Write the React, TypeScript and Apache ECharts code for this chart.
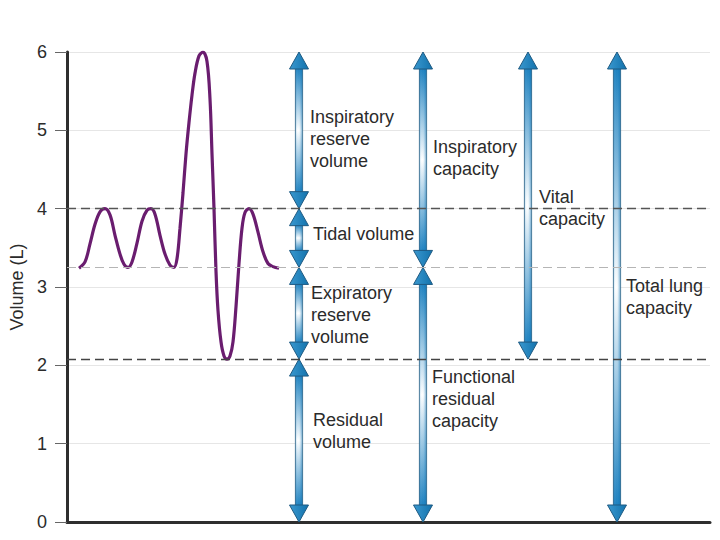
import React, { useEffect, useRef } from "react";
import * as echarts from "echarts";

// ---- data ----
const yTicks = [0, 1, 2, 3, 4, 5, 6];
// spirogram trace: [time, volume (L)]
const traceTime = [
  1.2, 1.8, 2.3, 2.8, 3.3, 3.8, 4.3, 4.8, 5.3, 5.7, 6.1, 6.5, 7.0, 7.5, 8.0, 8.4, 8.8, 9.3, 9.8, 10.3,
  10.7, 11.0, 11.3, 11.6, 11.9, 12.2, 12.5, 12.8, 13.2, 13.6, 14.0, 14.3, 14.5, 14.7, 14.9, 15.1, 15.4,
  15.7, 16.0, 16.3, 16.6, 16.9, 17.2, 17.5, 17.8, 18.2, 18.6, 19.1, 19.6, 20.1, 20.6, 21.2,
];
const traceVolume = [
  3.24, 3.32, 3.55, 3.8, 3.96, 4.0, 3.92, 3.66, 3.42, 3.29, 3.25, 3.32, 3.56, 3.84, 3.98, 4.0, 3.93, 3.66,
  3.42, 3.28, 3.25, 3.36, 3.75, 4.2, 4.7, 5.1, 5.45, 5.73, 5.95, 6.0, 5.88, 5.4, 4.7, 4.0, 3.2, 2.7, 2.3,
  2.12, 2.08, 2.12, 2.3, 2.75, 3.3, 3.75, 3.95, 4.0, 3.93, 3.7, 3.45, 3.3, 3.26, 3.24,
];
// reference levels (L)
const levelTidalTop = 4;
const levelFRC = 3.25;
const levelRV = 2.08;
const levelTLC = 6;

const arrowNames = [
  "Inspiratory\nreserve\nvolume",
  "Tidal volume",
  "Expiratory\nreserve\nvolume",
  "Residual\nvolume",
  "Inspiratory\ncapacity",
  "Functional\nresidual\ncapacity",
  "Vital\ncapacity",
  "Total lung\ncapacity",
];
const arrowColumn = [23.2, 23.2, 23.2, 23.2, 35.6, 35.6, 46.1, 55.0];
const arrowTop = [levelTLC, levelTidalTop, levelFRC, levelRV, levelTLC, levelFRC, levelTLC, levelTLC];
const arrowBottom = [levelTidalTop, levelFRC, levelRV, 0, levelFRC, 0, levelRV, 0];

// label pixel nudges (style only)
const labelDx = [11, 14, 12, 14, 10, 9, 11, 9];
const labelDy = [9, -4, 2, -10, -2, 4, 2, 10];

const BLUE = "#1b80bf";
const OUTLINE = "#1e5a82";

export default function App() {
  const ref = useRef<HTMLDivElement>(null);
  useEffect(() => {
    if (!ref.current) return;
    const chart = echarts.init(ref.current, undefined, { renderer: "svg" });
    const trace = traceTime.map((t, i) => [t, traceVolume[i]]);
    const arrows = arrowColumn.map((x, i) => [x, arrowTop[i], arrowBottom[i]]);
    const font = "Liberation Sans, Arial, Helvetica, sans-serif";

    const option: any = {
      animation: false,
      backgroundColor: "#ffffff",
      grid: { left: 67, right: 10, top: 52, bottom: 18, containLabel: false },
      xAxis: {
        type: "value",
        min: 0,
        max: 64.3,
        axisLine: { show: true, lineStyle: { color: "#2e2e2e", width: 3 } },
        axisTick: { show: false },
        axisLabel: { show: false },
        splitLine: { show: false },
      },
      yAxis: {
        type: "value",
        min: yTicks[0],
        max: yTicks[yTicks.length - 1],
        interval: 1,
        name: "Volume (L)",
        nameLocation: "middle",
        nameRotate: 90,
        nameGap: 41,
        nameTextStyle: { color: "#2b2b2b", fontSize: 18, fontFamily: font },
        axisLine: { show: true, lineStyle: { color: "#2e2e2e", width: 3 } },
        axisTick: { show: true, inside: false, length: 12, lineStyle: { color: "#666", width: 1 } },
        axisLabel: { color: "#2b2b2b", fontSize: 18, fontFamily: font, margin: 20 },
        splitLine: { show: true, lineStyle: { color: "#e6e6e6", width: 1 } },
      },
      series: [
        {
          type: "line",
          data: trace,
          smooth: 0.35,
          showSymbol: false,
          symbol: "none",
          lineStyle: { color: "#6a1d6f", width: 3.2 },
          z: 3,
          markLine: {
            silent: true,
            symbol: ["none", "none"],
            label: { show: false },
            data: [
              { yAxis: levelTidalTop, lineStyle: { color: "#555", width: 1.3, type: [9, 5] } },
              { yAxis: levelFRC, lineStyle: { color: "#b5b5b5", width: 1, type: [9, 5] } },
              { yAxis: levelRV, lineStyle: { color: "#444", width: 1.3, type: [9, 5] } },
            ],
          },
        },
        {
          type: "custom",
          data: arrows,
          clip: false,
          z: 4,
          renderItem: (params: any, api: any) => {
            const i = params.dataIndex;
            const x = api.value(0);
            const p1 = api.coord([x, api.value(1)]);
            const p2 = api.coord([x, api.value(2)]);
            const cx = p1[0];
            const ty = p1[1];
            const by = p2[1];
            const hw = 9.5;
            const hh = 17;
            const sw = 3.6;
            const shaftTop = ty + hh - 1;
            const shaftH = Math.max(0, by - ty - 2 * hh + 2);
            const headFill = new echarts.graphic.LinearGradient(0, 0, 1, 0, [
              { offset: 0, color: "#3a98cf" },
              { offset: 1, color: "#1373ad" },
            ]);
            return {
              type: "group",
              children: [
                {
                  type: "rect",
                  shape: { x: cx - sw, y: shaftTop, width: 2 * sw, height: shaftH },
                  style: {
                    fill: new echarts.graphic.LinearGradient(0, 0, 0, 1, [
                      { offset: 0, color: BLUE },
                      { offset: 0.5, color: "#ffffff" },
                      { offset: 1, color: BLUE },
                    ]),
                    stroke: OUTLINE,
                    lineWidth: 0.8,
                  },
                },
                {
                  type: "rect",
                  shape: { x: cx - sw + 0.5, y: shaftTop, width: 2 * sw - 1, height: shaftH },
                  style: {
                    fill: new echarts.graphic.LinearGradient(0, 0, 1, 0, [
                      { offset: 0, color: "rgba(27,128,191,0.2)" },
                      { offset: 0.35, color: "rgba(255,255,255,0)" },
                      { offset: 0.65, color: "rgba(27,128,191,0.08)" },
                      { offset: 1, color: "rgba(20,110,170,0.5)" },
                    ]),
                  },
                },
                {
                  type: "polygon",
                  shape: { points: [[cx, ty], [cx + hw, ty + hh], [cx - hw, ty + hh]] },
                  style: { fill: headFill, stroke: OUTLINE, lineWidth: 1 },
                },
                {
                  type: "polygon",
                  shape: { points: [[cx, by], [cx + hw, by - hh], [cx - hw, by - hh]] },
                  style: { fill: headFill, stroke: OUTLINE, lineWidth: 1 },
                },
                {
                  type: "text",
                  style: {
                    text: arrowNames[i],
                    x: cx + labelDx[i],
                    y: (ty + by) / 2 + labelDy[i],
                    fill: "#2b2b2b",
                    fontSize: 18,
                    fontFamily: font,
                    lineHeight: 22,
                    align: "left",
                    verticalAlign: "middle",
                  },
                },
              ],
            };
          },
        },
      ],
    };
    chart.setOption(option);
    return () => chart.dispose();
  }, []);
  return (
    <div
      ref={ref}
      style={{ position: "absolute", left: 0, top: 0, width: 720, height: 540 }}
    />
  );
}
